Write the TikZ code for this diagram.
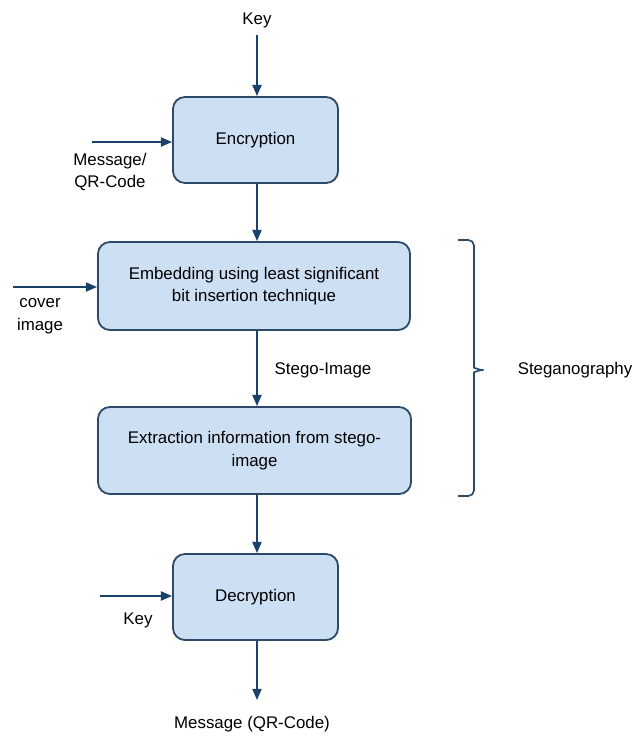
\documentclass[tikz,border=0pt]{standalone}
\usepackage{fontspec}
\setmainfont{Liberation Sans}
\usetikzlibrary{arrows.meta}
\definecolor{boxfill}{RGB}{205,223,242}
\definecolor{boxline}{RGB}{45,75,105}
\definecolor{arrowcol}{RGB}{25,65,105}

\begin{document}
\begin{tikzpicture}[x=0.025cm,y=-0.025cm,
  every node/.style={font=\fontsize{12}{16}\selectfont},
  blk/.style={draw=boxline,fill=boxfill,line width=1.3pt,rounded corners=0.3cm,align=center,inner sep=0pt},
  lbl/.style={align=center,inner sep=0pt},
  flow/.style={draw=arrowcol,line width=1.3pt,-{Triangle[length=8pt,width=6.5pt]}}]
\useasboundingbox (0,0) rectangle (644,738);
% blocks
\node[blk,minimum width=4.125cm,minimum height=2.15cm] (enc) at (255.5,140) {Encryption};
\node[blk,minimum width=7.8cm,minimum height=2.2cm] (emb) at (254,286) {Embedding using least significant\\bit insertion technique};
\node[blk,minimum width=7.825cm,minimum height=2.175cm] (ext) at (254.5,450.5) {Extraction information from stego-\\image};
\node[blk,minimum width=4.125cm,minimum height=2.15cm] (dec) at (255.5,597) {Decryption};
% labels
\node[lbl] (key1) at (257,20) {Key};
\node[lbl] (msg) at (110,172) {Message/\\QR-Code};
\node[lbl] (cov) at (40,316) {cover\\image};
\node[lbl] (stego) at (323,370) {Stego-Image};
\node[lbl] (steg) at (575,370) {Steganography};
\node[lbl] (key2) at (138,620) {Key};
\node[lbl] (out) at (252,724) {Message (QR-Code)};
\coordinate (msgin) at (92,142);
\coordinate (covin) at (13,287);
\coordinate (keyin) at (100,596);
\coordinate (outend) at (257,700);
% arrows
\draw[flow] ([yshift=-5pt]key1.south) -- (key1.south |- enc.north);
\draw[flow] (msgin) -- (msgin -| enc.west);
\draw[flow] (key1.south |- enc.south) -- (key1.south |- emb.north);
\draw[flow] (covin) -- (covin -| emb.west);
\draw[flow] (key1.south |- emb.south) -- (key1.south |- ext.north);
\draw[flow] (key1.south |- ext.south) -- (key1.south |- dec.north);
\draw[flow] (keyin) -- (keyin -| dec.west);
\draw[flow] (key1.south |- dec.south) -- (outend);
% brace
\draw[boxline,line width=1.2pt,rounded corners=4pt] (458,240) -- (474,240) -- (474,362)
  to[out=-90,in=180] (487,370) to[out=180,in=90] (474,378) -- (474,496) -- (458,496);
\end{tikzpicture}
\end{document}
